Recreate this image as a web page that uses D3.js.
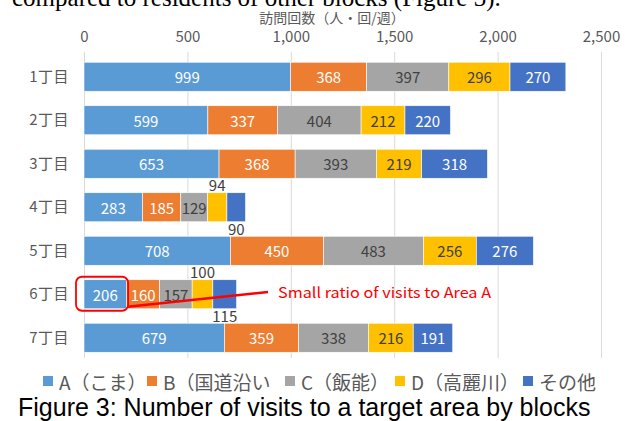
<!DOCTYPE html>
<html><head><meta charset="utf-8">
<script src="https://cdn.jsdelivr.net/npm/d3@7/dist/d3.min.js"></script>
<style>
html,body{margin:0;padding:0;background:#fff;}
svg{display:block;}
</style></head>
<body>
<svg id="chart" width="633" height="421"></svg>
<script>
const categories = ["1丁目","2丁目","3丁目","4丁目","5丁目","6丁目","7丁目"];
const seriesNames = ["A（こま）","B（国道沿い","C（飯能）","D（高麗川）","その他"];
const seriesA = [999, 599, 653, 283, 708, 206, 679];
const seriesB = [368, 337, 368, 185, 450, 160, 359];
const seriesC = [397, 404, 393, 129, 483, 157, 338];
const seriesD = [296, 212, 219, 94, 256, 100, 216];
const seriesE = [270, 220, 318, 90, 276, 115, 191];
const tickValues = [0, 500, 1000, 1500, 2000, 2500];
const colors = ["#5B9BD5","#ED7D31","#A5A5A5","#FFC000","#4472C4"];
const labelColors = ["#ffffff","#ffffff","#404040","#404040","#ffffff"];
const axisTitle = "訪問回数（人・回/週）";
const topText = "compared to residents of other blocks (Figure 3).";
const caption = "Figure 3: Number of visits to a target area by blocks";
const annotation = "Small ratio of visits to Area A";
const highlightCategory = "6丁目";

const allSeries = [seriesA, seriesB, seriesC, seriesD, seriesE];
const rows = categories.map((c, i) => {
  const r = {cat: c};
  seriesNames.forEach((s, j) => r[s] = allSeries[j][i]);
  return r;
});
const stacked = d3.stack().keys(seriesNames)(rows);

const svg = d3.select("#chart");
const cjk = "'Noto Sans CJK JP','Noto Sans',sans-serif";

const x = d3.scaleLinear().domain([0, 2500]).range([84, 601]);
const y = d3.scaleBand().domain(categories).range([55, 359.5]).paddingInner(0.333).paddingOuter(0.1665);

// top cut text
svg.append("text").attr("x", 12).attr("y", 6)
  .attr("font-family", "'Liberation Serif','Times New Roman',serif")
  .attr("font-size", 25).attr("fill", "#000").text(topText);

// axis title
svg.append("text").attr("x", 332).attr("y", 16.5)
  .attr("text-anchor", "middle").attr("dominant-baseline", "central")
  .attr("font-family", cjk).attr("font-size", 14).attr("fill", "#595959")
  .text(axisTitle);

// gridlines
svg.append("g").selectAll("line").data(tickValues).join("line")
  .attr("x1", d => x(d) + 0.5).attr("x2", d => x(d) + 0.5)
  .attr("y1", 52).attr("y2", 358)
  .attr("stroke", "#D9D9D9").attr("stroke-width", 1);

// top axis with tick labels
const axis = d3.axisTop(x).tickValues(tickValues).tickSize(0).tickPadding(0)
  .tickFormat(d3.format(","));
const ax = svg.append("g").attr("transform", "translate(0,37)").call(axis);
ax.select(".domain").remove();
ax.selectAll("text").attr("font-family", cjk).attr("font-size", 15)
  .attr("fill", "#595959").attr("dy", "0.35em").attr("y", 0);

// category labels
const ay = d3.axisLeft(y).tickSize(0).tickPadding(0);
const ayg = svg.append("g").attr("transform", "translate(69,0)").call(ay);
ayg.select(".domain").remove();
ayg.selectAll("text").attr("font-family", cjk).attr("font-size", 15)
  .attr("fill", "#595959").attr("letter-spacing", "0.5px");

// bars
const layers = svg.append("g").selectAll("g").data(stacked).join("g")
  .attr("fill", (d, i) => colors[i]);
layers.selectAll("rect").data(d => d).join("rect")
  .attr("x", d => x(d[0])).attr("width", d => x(d[1]) - x(d[0]))
  .attr("y", d => y(d.data.cat)).attr("height", y.bandwidth())
  .attr("stroke", "#ffffff").attr("stroke-width", 0.6);

// data labels
const lblG = svg.append("g").attr("font-family", cjk).attr("font-size", 15)
  .attr("text-anchor", "middle");
stacked.forEach((layer, i) => {
  layer.forEach(d => {
    const v = d[1] - d[0];
    const w = x(d[1]) - x(d[0]);
    const cx = (x(d[0]) + x(d[1])) / 2;
    let cy = y(d.data.cat) + y.bandwidth() / 2;
    let col = labelColors[i];
    if (w < 25) {
      col = "#404040";
      if (i === 3) cy = y(d.data.cat) - 8;
      else cy = y(d.data.cat) + y.bandwidth() + 7;
    }
    lblG.append("text").attr("x", cx).attr("y", cy)
      .attr("dominant-baseline", "central").attr("fill", col).text(v);
  });
});

// annotation
const hy = y(highlightCategory);
const aVal = seriesA[categories.indexOf(highlightCategory)];
svg.append("rect")
  .attr("x", x(0) - 8).attr("y", hy - 3)
  .attr("width", x(aVal) - x(0) + 9.5).attr("height", y.bandwidth() + 5)
  .attr("rx", 6).attr("ry", 6)
  .attr("fill", "none").attr("stroke", "#FF0000").attr("stroke-width", 1.8);
svg.append("line")
  .attr("x1", x(aVal) + 1).attr("y1", hy + y.bandwidth() - 2)
  .attr("x2", 268).attr("y2", 292)
  .attr("stroke", "#FF0000").attr("stroke-width", 2.5);
svg.append("text").attr("x", 278).attr("y", 298)
  .attr("font-family", cjk).attr("font-size", 14.5).attr("fill", "#FF0000")
  .attr("textLength", 213).attr("lengthAdjust", "spacingAndGlyphs")
  .text(annotation);

// legend
const legendX = [43, 147, 285, 395, 523];
const lg = svg.append("g");
seriesNames.forEach((s, i) => {
  lg.append("rect").attr("x", legendX[i]).attr("y", 376).attr("width", 10).attr("height", 10)
    .attr("fill", colors[i]);
  lg.append("text").attr("x", legendX[i] + 16).attr("y", 381)
    .attr("dominant-baseline", "central")
    .attr("font-family", cjk).attr("font-size", 19).attr("fill", "#595959").text(s);
});

// caption
svg.append("text").attr("x", 18).attr("y", 416)
  .attr("font-family", "'Liberation Sans',Arial,sans-serif")
  .attr("font-size", 25).attr("fill", "#000").text(caption);
</script>
</body></html>
